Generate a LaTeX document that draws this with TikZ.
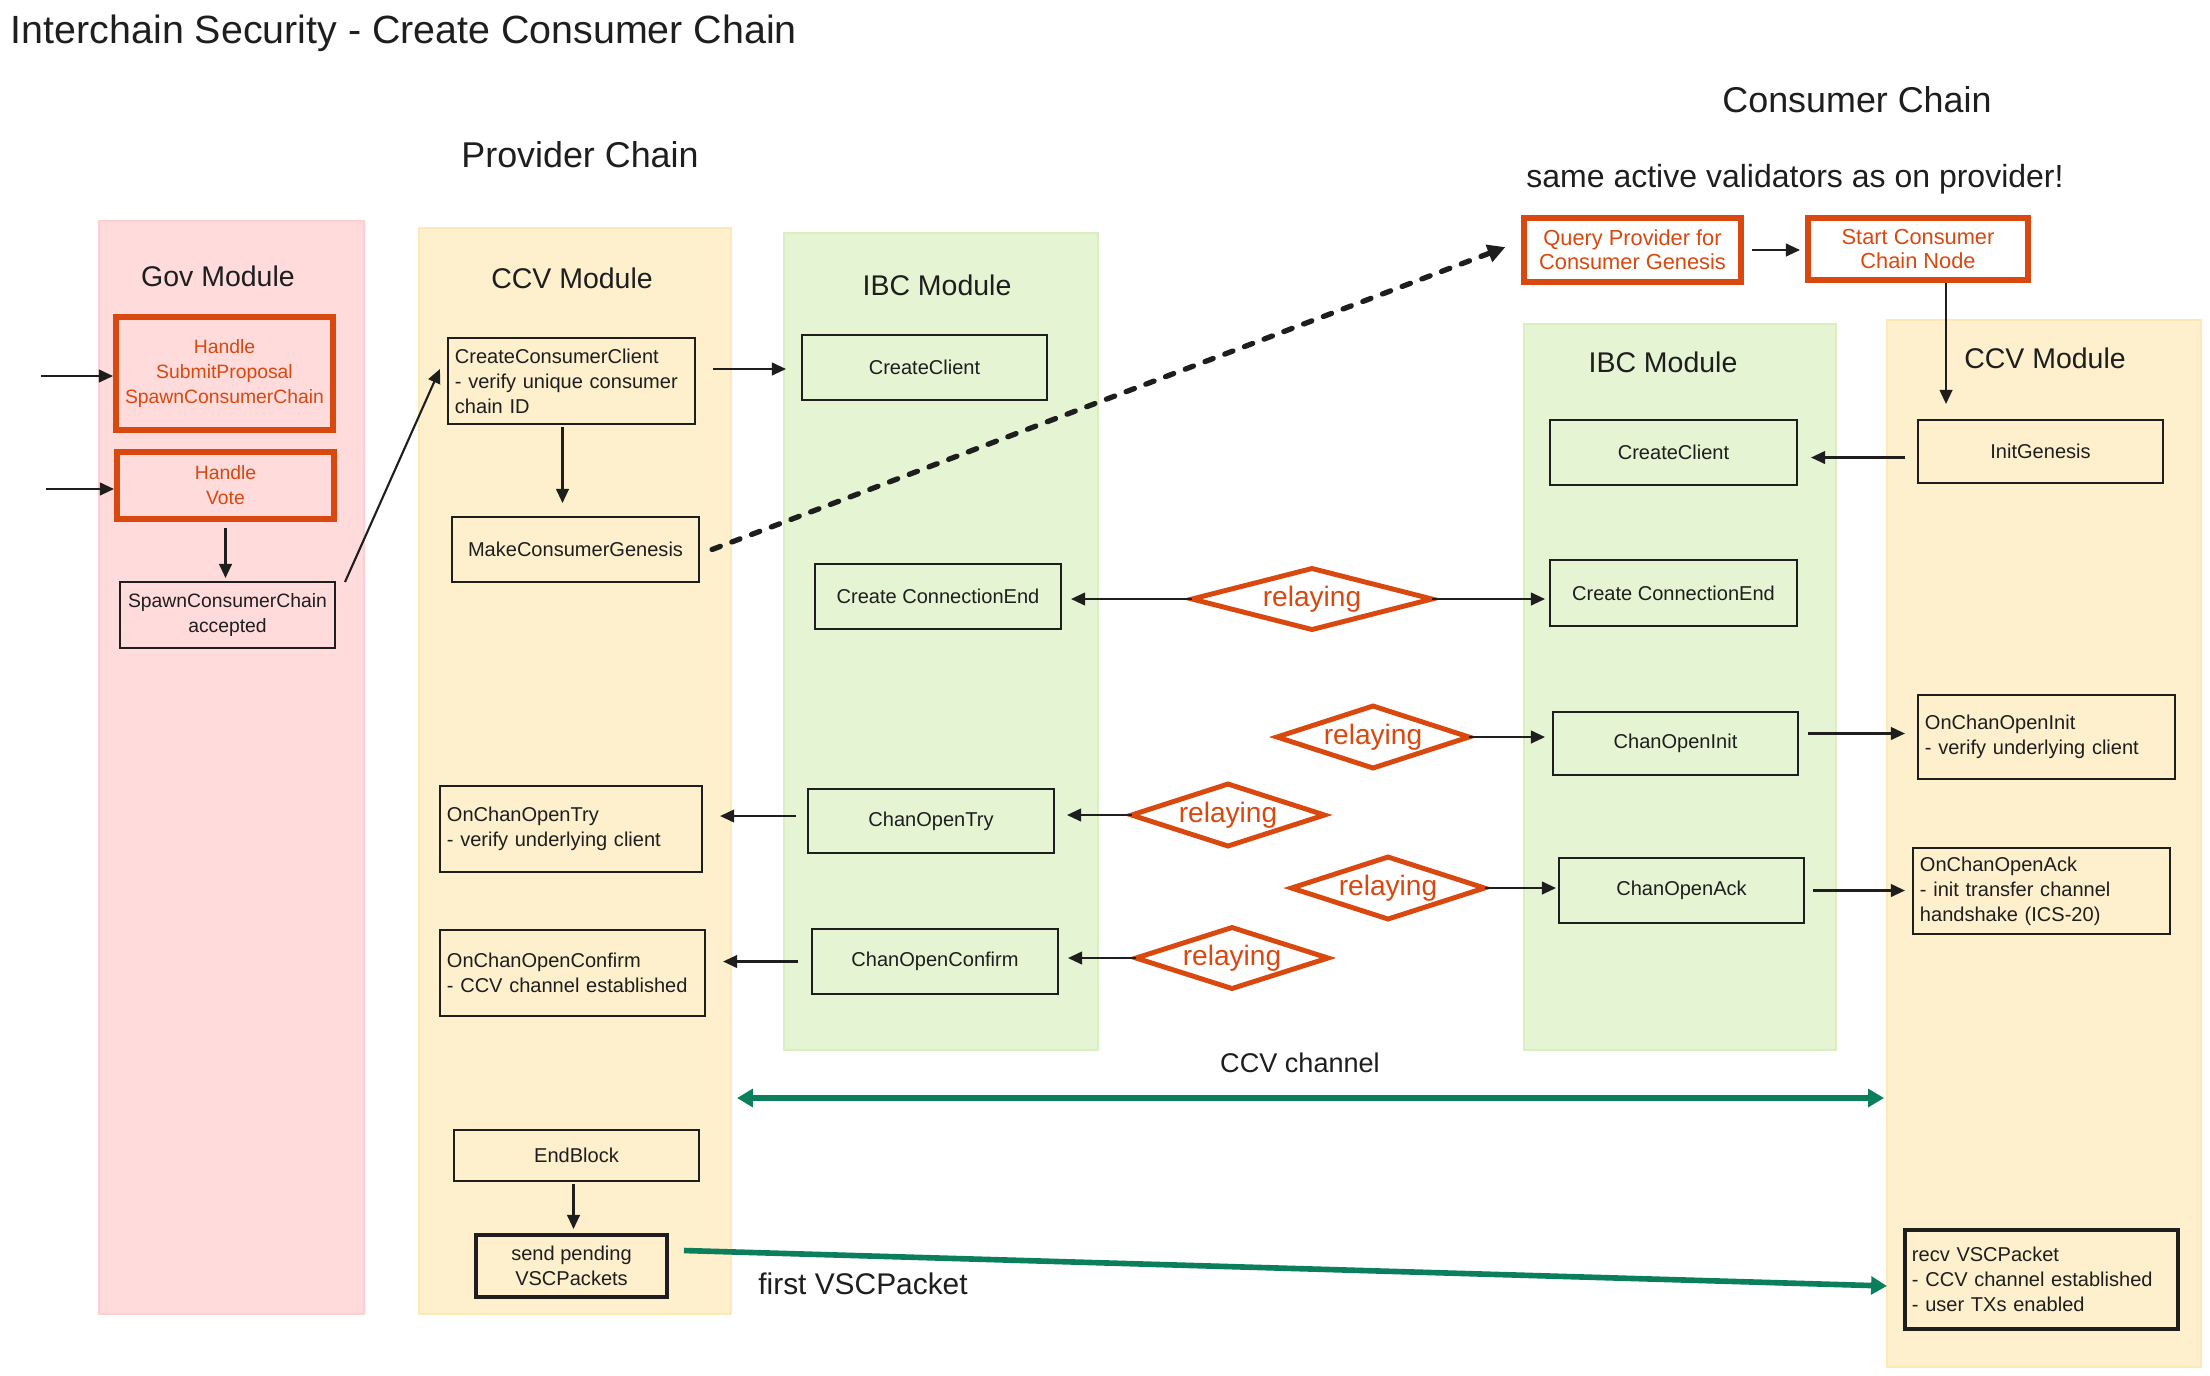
\documentclass[tikz,border=0pt]{standalone}
\usepackage{fontspec}
\setmainfont{Liberation Sans}
\usetikzlibrary{arrows.meta,shapes.geometric,calc}
\newdimen\pxu
\pxu=0.01cm
\definecolor{pinkbg}{HTML}{FFDBDB}
\definecolor{pinkbd}{HTML}{FFCECE}
\definecolor{yelbg}{HTML}{FEF0CD}
\definecolor{yelbd}{HTML}{FDE9B5}
\definecolor{grnbg}{HTML}{E5F4D3}
\definecolor{grnbd}{HTML}{D9EFC0}
\definecolor{orng}{HTML}{D9480F}
\definecolor{ink}{HTML}{1E1E1E}
\definecolor{grn}{HTML}{0B7F5C}
\newcommand\fsz[2]{\fontsize{#1}{#2}\selectfont}
\newcommand\bx[6]{\node[#2, minimum width={(#5-#3)*\pxu}, minimum height={(#6-#4)*\pxu}] (#1) at ({(#3+#5)/2},{(#4+#6)/2})}
\begin{document}
\begin{tikzpicture}[x=0.01cm,y=-0.01cm,
  every node/.style={inner sep=0pt, outer sep=0pt, text=ink},
  col/.style={rectangle, line width=0.8pt},
  box/.style={rectangle, draw=ink, line width=0.6pt, font=\fsz{5.7}{7.1}, align=center},
  lbox/.style={box, align=left, inner xsep=7\pxu},
  tbox/.style={line width=1.3pt},
  obox/.style={rectangle, draw=orng, line width=1.6pt, text=orng, font=\fsz{5.5}{7.1}, align=center},
  obox2/.style={obox, font=\fsz{6.2}{6.9}},
  rel/.style={diamond, draw=orng, line width=1.4pt, text=orng, aspect=3.5, font=\fsz{8}{10}},
  head/.style={font=\fsz{10.2}{12}},
  sub/.style={font=\fsz{9.1}{11}},
  lbl/.style={font=\fsz{8.1}{10}},
  arr/.style={draw=ink, line width=0.6pt, -{Triangle[length=4pt,width=3.6pt]}},
  darr/.style={draw=ink, line width=1.5pt, line cap=round, dash pattern=on 2.5pt off 3.5pt, -{Triangle[length=5pt,width=5pt]}},
  garr/.style={draw=grn, line width=1.6pt, -{Triangle[length=4.5pt,width=5pt]}},
  garrb/.style={draw=grn, line width=1.6pt, {Triangle[length=4.5pt,width=5pt]}-{Triangle[length=4.5pt,width=5pt]}},
]
\useasboundingbox[fill=white] (0,0) rectangle (2210,1375);

% columns
\bx{govcol}{col, fill=pinkbg, draw=pinkbd}{99}{221}{364}{1314}{};
\bx{pccv}{col, fill=yelbg, draw=yelbd}{419}{228}{731}{1314}{};
\bx{pibc}{col, fill=grnbg, draw=grnbd}{784}{233}{1098}{1050}{};
\bx{cibc}{col, fill=grnbg, draw=grnbd}{1524}{324}{1836}{1050}{};
\bx{cccv}{col, fill=yelbg, draw=yelbd}{1887}{320}{2201}{1367}{};

% headings
\node[font=\fsz{11.2}{13}, anchor=west] (title) at (11,33) {Interchain Security - Create Consumer Chain};
\node[head] (provlbl) at (580,155) {Provider Chain};
\node[head] (conslbl) at (1857,100) {Consumer Chain};
\node[sub] (samelbl) at (1795,179) {same active validators as on provider!};
\node[lbl] (govlbl) at (218,276) {Gov Module};
\node[lbl] (pccvlbl) at (572,278) {CCV Module};
\node[lbl] (pibclbl) at (937,285) {IBC Module};
\node[lbl] (cibclbl) at (1663,362) {IBC Module};
\node[lbl] (cccvlbl) at (2045,358) {CCV Module};

% gov module
\bx{hsp}{obox}{116}{317}{333}{430}{Handle\\SubmitProposal\\SpawnConsumerChain};
\bx{hv}{obox}{117}{452}{334}{519}{Handle\\Vote};
\bx{sca}{box, font=\fsz{5.5}{7.1}}{120}{582}{335}{648}{SpawnConsumerChain\\accepted};

% provider ccv
\bx{ccc}{lbox, text width=2.33cm}{448}{338}{695}{424}{CreateConsumerClient\\- verify unique consumer\\chain ID};
\bx{mcg}{box}{452}{517}{699}{582}{MakeConsumerGenesis};
\bx{oct}{lbox, text width=2.48cm}{440}{786}{702}{872}{OnChanOpenTry\\- verify underlying client};
\bx{ocf}{lbox, text width=2.51cm}{440}{930}{705}{1016}{OnChanOpenConfirm\\- CCV channel established};
\bx{eb}{box}{454}{1130}{699}{1181}{EndBlock};
\bx{sp}{box, tbox}{476}{1235}{667}{1297}{send pending\\VSCPackets};

% provider ibc
\bx{pcc}{box}{802}{335}{1047}{400}{CreateClient};
\bx{pce}{box}{815}{564}{1061}{629}{Create ConnectionEnd};
\bx{pct}{box}{808}{789}{1054}{853}{ChanOpenTry};
\bx{pcf}{box}{812}{929}{1058}{994}{ChanOpenConfirm};

% consumer
\bx{qp}{obox2}{1524}{218}{1741}{282}{Query Provider for\\Consumer Genesis};
\bx{scn}{obox2}{1808}{218}{2028}{280}{Start Consumer\\Chain Node};
\bx{ccl}{box}{1550}{420}{1797}{485}{CreateClient};
\bx{ig}{box}{1918}{420}{2163}{483}{InitGenesis};
\bx{cce}{box}{1550}{560}{1797}{626}{Create ConnectionEnd};
\bx{coi}{box}{1553}{712}{1798}{775}{ChanOpenInit};
\bx{oci}{lbox, text width=2.43cm}{1918}{695}{2175}{779}{OnChanOpenInit\\- verify underlying client};
\bx{coa}{box}{1559}{858}{1804}{923}{ChanOpenAck};
\bx{oca}{lbox, text width=2.43cm}{1913}{848}{2170}{934}{OnChanOpenAck\\- init transfer channel\\handshake (ICS-20)};
\bx{rv}{lbox, tbox, text width=2.59cm}{1905}{1230}{2178}{1329}{recv VSCPacket\\- CCV channel established\\- user TXs enabled};

% relaying diamonds
\node[rel, minimum width=240\pxu, minimum height=61\pxu] (r1) at (1312,599) {relaying};
\node[rel, minimum width=192\pxu, minimum height=62\pxu] (r2) at (1373,737) {relaying};
\node[rel, minimum width=193\pxu, minimum height=62\pxu] (r3) at (1228,815) {relaying};
\node[rel, minimum width=193\pxu, minimum height=62\pxu] (r4) at (1388,888) {relaying};
\node[rel, minimum width=192\pxu, minimum height=61\pxu] (r5) at (1232,958) {relaying};

% channel labels
\node[font=\fsz{7.7}{9}] (ccvch) at (1300,1063) {CCV channel};
\node[font=\fsz{8.5}{10}] (fvsc) at (863,1284) {first VSCPacket};

% connectors
\coordinate (in1) at (41,376);
\coordinate (in2) at (46,489);
\draw[arr, shorten >=3\pxu] (in1) -- (in1 -| hsp.west);
\draw[arr, shorten >=3\pxu] (in2) -- (in2 -| hv.west);
\draw[arr, shorten <=9\pxu, shorten >=4\pxu] (hv.south) -- (hv.south |- sca.north);
\draw[arr] ([xshift=10\pxu]sca.north east) -- ([xshift=-8\pxu,yshift=12\pxu]ccc.west);
\draw[arr, shorten <=3\pxu, shorten >=14\pxu] ([xshift=-9\pxu]ccc.south) -- ([xshift=-9\pxu]ccc.south |- mcg.north);
\draw[arr, shorten <=18\pxu, shorten >=16\pxu] ([yshift=12\pxu]ccc.east) -- ([yshift=12\pxu]ccc.east -| pcc.west);
\draw[darr, shorten <=14\pxu, shorten >=20\pxu] ([yshift=-5\pxu]mcg.east) -- ([yshift=10\pxu]qp.west);
\draw[arr, shorten <=11\pxu, shorten >=8\pxu] (qp.east) -- (qp.east -| scn.west);
\draw[arr, shorten <=3\pxu, shorten >=16\pxu] ([xshift=28\pxu]scn.south) -- ([xshift=28\pxu]scn.south |- ig.north);
\draw[arr, shorten <=13\pxu, shorten >=14\pxu] ([yshift=-6\pxu]ig.west) -- ([yshift=-6\pxu]ig.west -| ccl.east);
\draw[arr, shorten >=10\pxu] (r1.west) -- (r1.west -| pce.east);
\draw[arr, shorten >=5\pxu] (r1.east) -- (r1.east -| cce.west);
\draw[arr, shorten >=8\pxu] (r2.east) -- (r2.east -| coi.west);
\draw[arr, shorten >=13\pxu] (r3.west) -- (r3.west -| pct.east);
\draw[arr, shorten >=3\pxu] (r4.east) -- (r4.east -| coa.west);
\draw[arr, shorten >=10\pxu] (r5.west) -- (r5.west -| pcf.east);
\draw[arr, shorten <=12\pxu, shorten >=18\pxu] ([yshift=5\pxu]pct.west) -- ([yshift=5\pxu]pct.west -| oct.east);
\draw[arr, shorten <=14\pxu, shorten >=18\pxu] (pcf.west) -- (pcf.west -| ocf.east);
\draw[arr, shorten <=10\pxu, shorten >=13\pxu] ([yshift=10\pxu]coi.east) -- ([yshift=10\pxu]coi.east -| oci.west);
\draw[arr, shorten <=9\pxu, shorten >=8\pxu] (coa.east) -- (coa.east -| oca.west);
\draw[arr, shorten <=3\pxu, shorten >=6\pxu] ([xshift=-3\pxu]eb.south) -- ([xshift=-3\pxu]eb.south |- sp.north);
\draw[garrb, shorten <=6\pxu, shorten >=3\pxu] ([yshift=-327\pxu]pccv.east) -- ([yshift=-327\pxu]pccv.east -| cccv.west);
\draw[garr, shorten <=17\pxu, shorten >=18\pxu] ([yshift=16\pxu]sp.east) -- ([yshift=-7\pxu]rv.west);
\end{tikzpicture}
\end{document}
